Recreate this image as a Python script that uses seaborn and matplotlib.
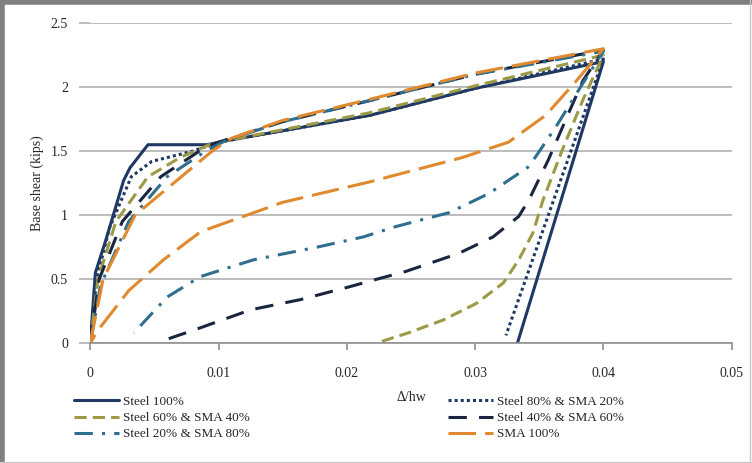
import matplotlib
matplotlib.use("Agg")
import matplotlib.pyplot as plt
import seaborn as sns
import pandas as pd
from matplotlib.lines import Line2D

sns.set_theme(style="white")
plt.rcParams['font.family'] = ['Liberation Serif', 'DejaVu Serif']

labels = ["Steel 100%", "Steel 80% & SMA 20%", "Steel 60% & SMA 40%",
          "Steel 40% & SMA 60%", "Steel 20% & SMA 80%", "SMA 100%"]

s100_x = [0, 0.0004, 0.0012, 0.0026, 0.0031, 0.0045, 0.0091, 0.0111, 0.0218, 0.030, 0.040, 0.0333]
s100_y = [0, 0.55, 0.80, 1.27, 1.37, 1.55, 1.55, 1.59, 1.78, 1.99, 2.20, 0.0]

s80_x = [0, 0.0005, 0.0015, 0.0032, 0.0048, 0.0080, 0.0100, 0.0218, 0.030, 0.0400, 0.0324]
s80_y = [0, 0.50, 0.90, 1.30, 1.42, 1.50, 1.57, 1.78, 1.99, 2.22, 0.06]

s60_x = [0, 0.0006, 0.0020, 0.0045, 0.0070, 0.0095, 0.0218, 0.030, 0.0400, 0.0384, 0.0368,
         0.0353, 0.0345, 0.0334, 0.0322, 0.0301, 0.0275, 0.0248, 0.0223]
s60_y = [0, 0.50, 0.95, 1.30, 1.45, 1.56, 1.80, 2.01, 2.25, 1.90, 1.51,
         1.12, 0.86, 0.65, 0.47, 0.31, 0.18, 0.08, 0.0]

s40_x = [0, 0.0007, 0.0025, 0.0055, 0.0085, 0.0100, 0.0150, 0.0220, 0.0300, 0.0400,
         0.0384, 0.0373, 0.0357, 0.0342, 0.0334, 0.0314, 0.0287, 0.0246, 0.0220,
         0.0202, 0.0164, 0.0125, 0.0086, 0.0057]
s40_y = [0, 0.50, 0.95, 1.30, 1.50, 1.57, 1.73, 1.90, 2.10, 2.29,
         2.05, 1.80, 1.43, 1.12, 0.99, 0.83, 0.70, 0.56, 0.49,
         0.44, 0.34, 0.26, 0.12, 0.02]

s20_x = [0, 0.0008, 0.0030, 0.0060, 0.0090, 0.0105, 0.0150, 0.0220, 0.0300, 0.0400,
         0.0384, 0.0363, 0.0342, 0.0311, 0.0280, 0.0238, 0.0213, 0.0177, 0.0127,
         0.0086, 0.0060, 0.0034]
s20_y = [0, 0.45, 0.95, 1.30, 1.50, 1.58, 1.73, 1.90, 2.10, 2.28,
         2.03, 1.69, 1.38, 1.17, 1.02, 0.91, 0.83, 0.75, 0.65,
         0.52, 0.36, 0.08]

sma_x = [0, 0.0010, 0.0035, 0.0065, 0.0095, 0.0110, 0.0150, 0.0220, 0.0300, 0.0400,
         0.0379, 0.0355, 0.0326, 0.0290, 0.0233, 0.0218, 0.0150, 0.0086, 0.0057,
         0.0030, 0.0006, 0.0]
sma_y = [0, 0.50, 1.00, 1.25, 1.50, 1.60, 1.74, 1.91, 2.11, 2.30,
         2.05, 1.78, 1.57, 1.45, 1.30, 1.26, 1.10, 0.87, 0.65,
         0.41, 0.10, 0.0]

series = [(s100_x, s100_y), (s80_x, s80_y), (s60_x, s60_y),
          (s40_x, s40_y), (s20_x, s20_y), (sma_x, sma_y)]
colors = ["#1F3864", "#1F3864", "#9C9A45", "#1A2540", "#2E6E8E", "#E0892E"]
dashes = [None, (1, 1), (4, 2), (6, 4), (6, 3, 1, 3), (9, 3)]

fig = plt.figure(figsize=(7.52, 4.63), dpi=100)
ax = fig.add_axes([0.12, 0.259, 0.853, 0.691])

handles = []
for (xs, ys), lab, c, d in zip(series, labels, colors, dashes):
    df = pd.DataFrame({"x": xs, "y": ys})
    sns.lineplot(data=df, x="x", y="y", sort=False, estimator=None,
                 color=c, linewidth=2.2, ax=ax)
    line = ax.get_lines()[-1]
    if d is not None:
        line.set_dashes(d)
    line.set_label(lab)
    handles.append(line)

ax.set_xlim(0, 0.05)
ax.set_ylim(0, 2.5)
ax.set_xticks([0, 0.01, 0.02, 0.03, 0.04, 0.05])
ax.set_xticklabels(["0", "0.01", "0.02", "0.03", "0.04", "0.05"])
ax.set_yticks([0, 0.5, 1, 1.5, 2, 2.5])
ax.set_yticklabels(["0", "0.5", "1", "1.5", "2", "2.5"])
ax.yaxis.grid(True, color="#B0B0B0", linewidth=1.2)
ax.set_axisbelow(True)
for s in ["top", "right", "left"]:
    ax.spines[s].set_visible(False)
ax.spines["bottom"].set_color("#909090")
ax.spines["bottom"].set_linewidth(1.2)
ax.tick_params(axis="x", direction="out", length=5, color="#909090", width=1.2,
               labelsize=10, pad=12, bottom=True)
ax.tick_params(axis="y", direction="out", length=8, color="#B0B0B0", width=1.2,
               labelsize=10, pad=8, left=True)
ax.set_xlabel("Δ/hw", fontsize=10, labelpad=8)
ax.set_ylabel("Base shear (kips)", fontsize=10, labelpad=5)

# legend row-major order like the original
order = [0, 2, 4, 1, 3, 5]
leg = ax.legend([handles[i] for i in order], [labels[i] for i in order],
                loc="upper left", bbox_to_anchor=(-0.025, -0.165), ncol=2,
                frameon=False, fontsize=9.5, handlelength=3.4, handletextpad=0.3,
                columnspacing=15.0, labelspacing=0.3, borderaxespad=0, borderpad=0)

# outer chart border (thicker on left/top as in the original)
fig.add_artist(Line2D([0.003, 0.003], [0.0, 1.0], transform=fig.transFigure,
                      color="#7F7F7F", linewidth=4))
fig.add_artist(Line2D([0.0, 1.0], [0.995, 0.995], transform=fig.transFigure,
                      color="#7F7F7F", linewidth=4))
fig.add_artist(Line2D([0.998, 0.998], [0.0, 1.0], transform=fig.transFigure,
                      color="#C8C8C8", linewidth=1))
fig.add_artist(Line2D([0.0, 1.0], [0.002, 0.002], transform=fig.transFigure,
                      color="#C8C8C8", linewidth=1))

fig.savefig("out.png", dpi=100)
